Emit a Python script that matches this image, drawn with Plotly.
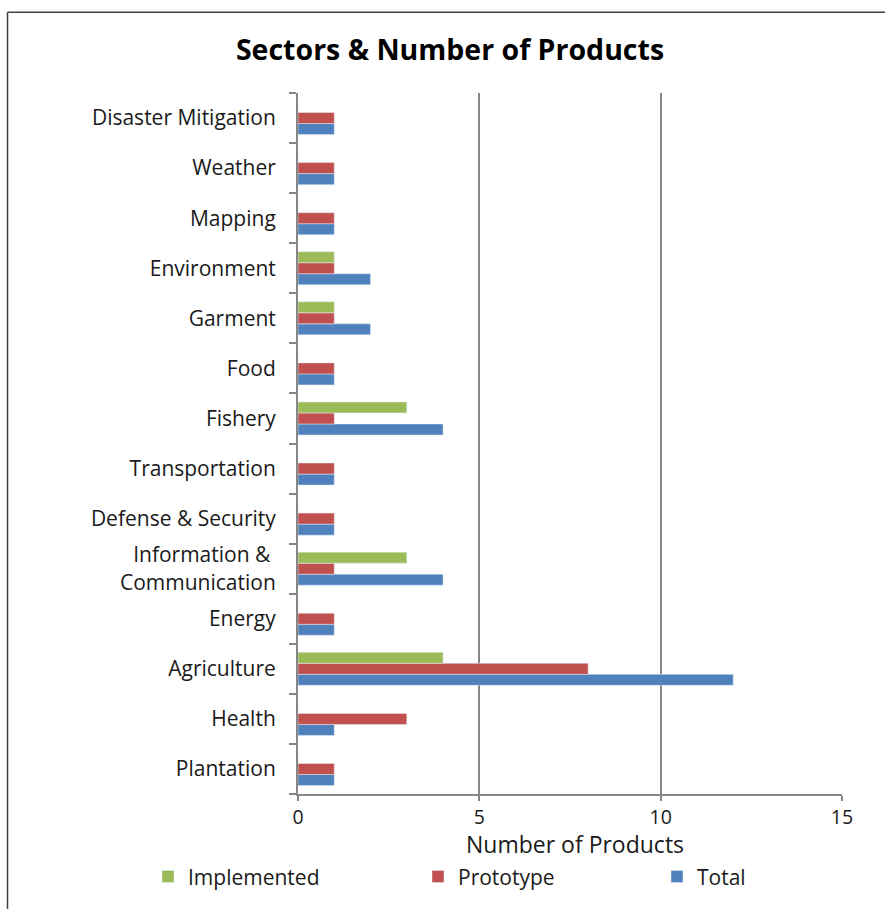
import plotly.graph_objects as go

categories = ["Plantation", "Health", "Agriculture", "Energy",
              "Information &\u00a0<br>Communication", "Defense & Security",
              "Transportation", "Fishery", "Food", "Garment", "Environment",
              "Mapping", "Weather", "Disaster Mitigation"]
implemented = [0, 0, 4, 0, 3, 0, 0, 3, 0, 1, 1, 0, 0, 0]
prototype = [1, 3, 8, 1, 1, 1, 1, 1, 1, 1, 1, 1, 1, 1]
total = [1, 1, 12, 1, 4, 1, 1, 4, 1, 2, 2, 1, 1, 1]
x_ticks = [0, 5, 10, 15]

W, H = 885, 909
L, R, T, B = 298, 43, 93, 113
pw, ph = W - L - R, H - T - B

def px_x(p):
    return (p - L) / pw

def px_y(p):
    return (H - B - p) / ph

FONT = "Open Sans"
TXT = "#1a1a1a"

fig = go.Figure()
fig.add_trace(go.Bar(y=categories, x=total, name="Total", orientation="h",
                     marker=dict(color="#4F81BD"), legend="legend3"))
fig.add_trace(go.Bar(y=categories, x=prototype, name="Prototype", orientation="h",
                     marker=dict(color="#C0504D"), legend="legend2"))
fig.add_trace(go.Bar(y=categories, x=implemented, name="Implemented", orientation="h",
                     marker=dict(color="#9BBB59"), legend="legend"))

leg_common = dict(orientation="h", yanchor="middle", xanchor="left",
                  font=dict(family=FONT, size=21, color=TXT),
                  bgcolor="rgba(0,0,0,0)", borderwidth=0)
fig.update_layout(
    width=W, height=H,
    margin=dict(l=L, r=R, t=T, b=B),
    paper_bgcolor="white", plot_bgcolor="white",
    barmode="group", bargap=0.34, bargroupgap=0,
    title=dict(text="<b>Sectors & Number of Products</b>", x=450 / W, xanchor="center",
               y=1 - 50 / H, yanchor="middle",
               font=dict(family=FONT, size=28.5, color="black")),
    showlegend=True,
    legend=dict(x=px_x(148), y=px_y(879), **leg_common),
    legend2=dict(x=px_x(418), y=px_y(879), **leg_common),
    legend3=dict(x=px_x(657), y=px_y(879), **leg_common),
    xaxis=dict(range=[0, 15], tickvals=x_ticks, ticks="outside", ticklen=5,
               tickcolor="#868686", tickwidth=2,
               showgrid=True, gridcolor="#868686", gridwidth=2,
               showline=True, linecolor="#868686", linewidth=2,
               zeroline=False,
               tickfont=dict(family=FONT, size=19.5, color=TXT)),
    yaxis=dict(type="category", categoryorder="array", categoryarray=categories,
               tickson="boundaries", ticks="outside", ticklen=7,
               tickcolor="#868686", tickwidth=2,
               showline=True, linecolor="#868686", linewidth=2,
               showgrid=False, zeroline=False, ticklabelstandoff=16,
               tickfont=dict(family=FONT, size=21, color=TXT)),
    annotations=[
        dict(text="Number of Products", xref="paper", yref="paper",
             x=px_x(575), y=px_y(846), xanchor="center", yanchor="middle",
             showarrow=False, font=dict(family=FONT, size=23, color=TXT)),
    ],
    shapes=[
        dict(type="line", xref="paper", yref="paper",
             x0=px_x(7.5), x1=px_x(900), y0=px_y(12), y1=px_y(12),
             line=dict(color="#404040", width=1.5)),
        dict(type="line", xref="paper", yref="paper",
             x0=px_x(7.5), x1=px_x(7.5), y0=px_y(12), y1=px_y(930),
             line=dict(color="#404040", width=1.5)),
    ],
)

fig.write_html("out.html")
